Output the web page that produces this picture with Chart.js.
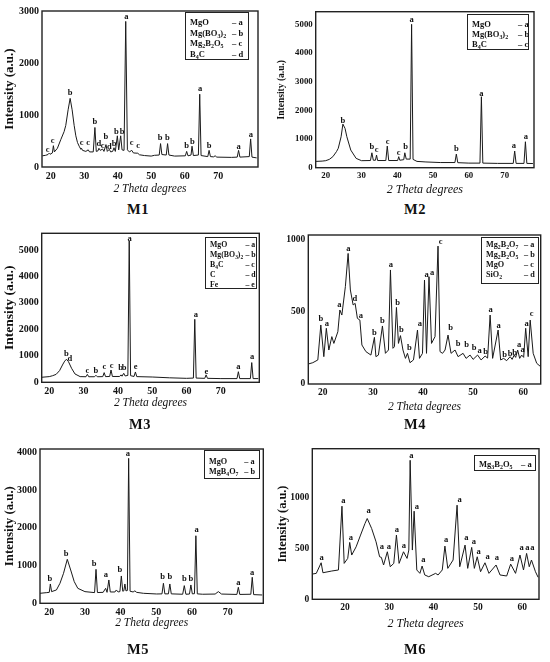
<!DOCTYPE html>
<html>
<head>
<meta charset="utf-8">
<script src="https://cdn.jsdelivr.net/npm/chart.js@4.4.0/dist/chart.umd.min.js"></script>
<style>
  body { margin: 0; background: #fff; }
  #fig { position: relative; width: 550px; height: 662px; font-family: "Liberation Serif", "Times New Roman", serif; color: #111; }
  #fig canvas { position: absolute; }
  .lg { position: absolute; box-sizing: border-box; border: 1.4px solid #222; background: #fff; font-weight: bold; font-size: 8.5px; will-change: transform; }
  .lg .row { position: relative; white-space: nowrap; }
  .lg .code { position: absolute; top: 0; }
  .lg sub { font-size: 70%; vertical-align: -2px; line-height: 0; }
  .ttl { position: absolute; font-weight: bold; font-size: 14.5px; letter-spacing: 0.5px; transform: translate(-50%, -50%); }
</style>
</head>
<body>
<div id="fig"></div>
<script>
// ---- data: [2 theta, intensity] ----
const m1Points = [[17.5,215],[18.5,225],[19.2,240],[19.5,265],[19.8,245],[20.5,270],[20.8,410],[21.1,290],[22,360],[23,525],[24,680],[24.5,800],[25.2,1100],[25.8,1320],[26.4,1100],[27,800],[27.5,600],[28,470],[28.5,400],[29,340],[29.2,360],[29.5,320],[30.5,300],[31.2,330],[31.6,290],[32.7,290],[33.2,760],[33.6,300],[34.1,310],[34.4,360],[34.8,320],[35.5,345],[35.9,300],[36.5,430],[36.9,300],[37.5,340],[37.9,290],[38.5,300],[38.9,370],[39.3,300],[39.9,600],[40.3,330],[40.9,600],[41.3,330],[41.9,320],[42.4,2800],[42.9,330],[43.5,290],[44.2,320],[44.7,270],[46.0,265],[46.5,235],[48,220],[50,210],[51,225],[52.4,230],[52.8,450],[53.2,240],[54.5,230],[54.9,450],[55.3,230],[57,210],[60.2,215],[60.6,300],[61,215],[61.9,230],[62.2,400],[62.6,220],[64.1,230],[64.5,1400],[64.9,220],[66.9,200],[67.3,320],[67.7,200],[68.6,195],[69.1,215],[69.6,190],[74,185],[75.7,190],[76.1,320],[76.5,190],[79.3,200],[79.7,540],[80.1,190],[81.5,175]];
const m1Labels = [[19.1,333,'c'],[20.6,499,'c'],[25.8,1420,'b'],[29.2,460,'c'],[31.2,460,'c'],[33.2,877,'b'],[34.4,448,'d'],[35.5,416,'c'],[36.5,576,'b'],[37.5,390,'d'],[38.9,448,'b'],[39.6,672,'b'],[41.3,672,'b'],[42.6,2892,'a'],[44.2,460,'c'],[46.1,416,'c'],[52.7,569,'b'],[54.8,569,'b'],[60.6,409,'b'],[62.3,486,'b'],[64.6,1497,'a'],[67.3,416,'b'],[76.1,397,'a'],[79.8,614,'a']];
const m1XTicks = [20, 30, 40, 50, 60, 70];
const m1YTicks = [0, 1000, 2000, 3000];
const m1Legend = ['MgO', 'Mg(BO<sub>3</sub>)<sub>2</sub>', 'Mg<sub>2</sub>B<sub>2</sub>O<sub>5</sub>', 'B<sub>4</sub>C'];
const m1Codes = ['a', 'b', 'c', 'd'];

const m2Points = [[17.3,220],[19,230],[20,245],[21,290],[22,385],[23,560],[23.5,675],[24.3,1080],[24.8,1520],[25.4,1370],[25.9,1080],[27,615],[28.5,325],[30,245],[32.5,250],[32.9,520],[33.3,260],[33.9,260],[34.2,440],[34.5,250],[36.8,250],[37.2,755],[37.6,250],[40.1,250],[40.4,385],[40.7,260],[41.8,280],[42.1,520],[42.5,300],[43.6,300],[44.0,5000],[44.4,290],[45.5,220],[48,200],[52,180],[56.1,180],[56.5,475],[56.9,175],[60,160],[63.1,160],[63.5,2475],[63.9,160],[68,150],[72.4,150],[72.8,580],[73.2,150],[75.4,150],[75.8,905],[76.2,150],[77.9,145]];
const m2Labels = [[24.8,1650,'b'],[32.9,730,'b'],[34.2,615,'c'],[37.3,905,'c'],[40.4,525,'c'],[42.3,730,'b'],[44.0,5175,'a'],[56.5,675,'b'],[63.5,2570,'a'],[72.6,770,'a'],[75.9,1080,'a']];
const m2XTicks = [20, 30, 40, 50, 60, 70];
const m2YTicks = [0, 1000, 2000, 3000, 4000, 5000];
const m2Legend = ['MgO', 'Mg(BO<sub>3</sub>)<sub>2</sub>', 'B<sub>4</sub>C'];
const m2Codes = ['a', 'b', 'c'];

const m3Points = [[17.8,190],[20,215],[21,250],[22,300],[23,440],[24,690],[24.5,800],[25,870],[25.6,780],[26.5,530],[27.5,315],[29,215],[30.7,210],[31.1,300],[31.5,210],[33.2,210],[33.6,265],[34,210],[35.6,215],[36,365],[36.4,215],[37.6,220],[38,465],[38.4,220],[40.5,220],[40.9,280],[41.2,230],[41.7,340],[42.1,240],[42.9,260],[43.3,5340],[43.7,250],[44.7,220],[45.1,390],[45.5,215],[50,200],[55,170],[60,150],[62,160],[62.4,2380],[62.8,160],[65.3,150],[65.7,280],[66.1,150],[70,140],[74.7,140],[75.1,400],[75.5,140],[78.6,140],[79,745],[79.4,140],[80.9,140]];
const m3Labels = [[25.0,1070,'b'],[26.0,870,'d'],[31.1,440,'c'],[33.6,440,'b'],[36.1,580,'c'],[38.2,617,'c'],[40.8,554,'b'],[41.8,554,'b'],[43.4,5440,'a'],[45.2,580,'e'],[62.7,2545,'a'],[65.8,415,'e'],[75.1,590,'a'],[79.1,945,'a']];
const m3XTicks = [20, 30, 40, 50, 60, 70];
const m3YTicks = [0, 1000, 2000, 3000, 4000, 5000];
const m3Legend = ['MgO', 'Mg(BO<sub>3</sub>)<sub>2</sub>', 'B<sub>4</sub>C', 'C', 'Fe'];
const m3Codes = ['a', 'b', 'c', 'd', 'e'];

const m4Points = [[17.1,139],[18.0,148],[19.0,167],[19.6,410],[20.2,190],[20.7,387],[21.2,236],[21.8,329],[22.2,282],[23.0,363],[23.4,514],[23.8,479],[24.5,676],[25.05,907],[25.5,653],[26.05,549],[26.45,560],[26.9,456],[27.4,444],[27.8,271],[28.6,225],[29.6,201],[30.3,324],[30.6,190],[31.1,201],[31.9,403],[32.5,213],[33.1,236],[33.5,792],[34.0,248],[34.3,259],[34.7,532],[35.1,282],[35.5,336],[36.0,236],[36.5,178],[36.9,213],[37.4,148],[38.1,167],[38.9,375],[39.3,178],[39.9,213],[40.3,722],[40.7,213],[41.2,745],[41.7,282],[42.4,329],[43.0,958],[43.4,225],[43.9,213],[44.4,236],[45.0,340],[45.6,213],[46.4,236],[47.0,190],[48.0,213],[48.6,178],[49.4,201],[50.0,171],[50.9,201],[51.6,167],[52.4,194],[52.9,180],[53.4,479],[53.9,178],[55.0,375],[55.5,167],[56.1,178],[56.7,162],[57.4,190],[57.8,171],[58.2,201],[58.5,185],[58.9,236],[59.3,178],[59.7,201],[60.1,185],[60.5,387],[61.0,190],[61.4,444],[62.0,213],[62.7,144],[63.5,120]];
const m4Labels = [[19.6,451,'b'],[20.8,417,'a'],[23.3,553,'a'],[25.1,942,'a'],[26.4,595,'d'],[27.6,475,'a'],[30.3,356,'b'],[31.9,438,'b'],[33.6,826,'a'],[34.95,565,'b'],[35.7,375,'b'],[37.3,250,'b'],[39.4,421,'a'],[40.7,762,'a'],[41.8,769,'a'],[43.5,988,'c'],[45.5,387,'b'],[47.0,282,'b'],[48.7,271,'b'],[50.2,252,'b'],[51.3,229,'a'],[52.5,225,'b'],[53.5,514,'a'],[55.1,407,'a'],[56.3,201,'b'],[57.4,213,'b'],[58.3,220,'b'],[59.2,273,'a'],[59.9,241,'a'],[60.7,417,'a'],[61.7,486,'c']];
const m4XTicks = [20, 30, 40, 50, 60];
const m4YTicks = [0, 500, 1000];
const m4Legend = ['Mg<sub>2</sub>B<sub>2</sub>O<sub>7</sub>', 'Mg<sub>2</sub>B<sub>2</sub>O<sub>5</sub>', 'MgO', 'SiO<sub>2</sub>'];
const m4Codes = ['a', 'b', 'c', 'd'];

const m5Points = [[17.4,265],[19.3,283],[20,290],[20.3,512],[20.65,309],[22,353],[23,530],[24,795],[25.05,1165],[26,883],[27,574],[28,397],[30,309],[32.7,283],[33.1,900],[33.5,285],[35.1,290],[35.8,397],[36.2,290],[36.7,618],[37.1,300],[38.4,300],[38.8,353],[39.3,300],[39.8,310],[40.2,724],[40.6,320],[40.9,330],[41.2,512],[41.5,330],[41.9,340],[42.25,3840],[42.65,320],[43.5,300],[44,330],[44.5,290],[46.4,265],[50.1,247],[51.6,250],[52,530],[52.4,250],[53.4,250],[53.8,512],[54.2,250],[57.4,240],[57.85,468],[58.3,240],[59.3,245],[59.7,486],[60.1,250],[60.7,255],[61.1,1790],[61.5,250],[63,240],[66.5,245],[67.4,309],[68.3,245],[72.6,235],[73,424],[73.4,235],[76.5,240],[76.9,689],[77.3,230],[79.7,220]];
const m5Labels = [[20.2,636,'b'],[24.7,1307,'b'],[32.6,1042,'b'],[35.9,759,'a'],[39.8,900,'b'],[42.05,3956,'a'],[51.8,706,'b'],[53.8,706,'b'],[57.85,662,'b'],[59.7,662,'b'],[61.3,1960,'a'],[73.0,547,'a'],[76.9,812,'a']];
const m5XTicks = [20, 30, 40, 50, 60, 70];
const m5YTicks = [0, 1000, 2000, 3000, 4000];
const m5Legend = ['MgO', 'MgB<sub>4</sub>O<sub>7</sub>'];
const m5Codes = ['a', 'b'];

const m6Points = [[12.6,248],[13.5,255],[14.6,359],[15.0,261],[17.0,278],[18.5,288],[19.3,915],[19.8,353],[20.6,402],[21.05,559],[21.5,435],[22.5,516],[23.5,631],[24.5,745],[25.0,794],[26.0,696],[27.0,565],[27.8,418],[28.2,412],[28.7,337],[29.55,467],[30.2,320],[31.0,353],[31.6,631],[32.2,353],[33.2,467],[34.0,402],[34.4,484],[34.7,1366],[35.2,484],[35.6,866],[36.2,288],[36.9,255],[37.4,327],[38.0,239],[38.9,222],[40.45,255],[41.0,239],[41.95,288],[42.55,523],[43.2,304],[44.4,386],[45.3,925],[45.9,320],[47.1,533],[47.7,304],[48.6,510],[49.2,304],[49.85,418],[50.6,271],[51.6,359],[52.5,255],[54.1,337],[55.0,239],[56.5,229],[57.4,346],[58.5,255],[59.5,435],[60.3,288],[61.0,451],[61.6,320],[62.1,386],[63.0,271],[63.6,216]];
const m6Labels = [[14.7,412,'a'],[19.6,967,'a'],[21.3,608,'a'],[25.3,869,'a'],[28.3,516,'a'],[29.9,516,'a'],[31.7,680,'a'],[33.3,523,'a'],[35.0,1415,'a'],[36.2,908,'a'],[37.7,386,'a'],[42.8,588,'a'],[45.9,974,'a'],[47.4,608,'a'],[49.1,565,'a'],[50.15,467,'a'],[52.2,418,'a'],[54.3,405,'a'],[57.7,395,'a'],[59.9,510,'a'],[61.2,510,'a'],[62.3,510,'a']];
const m6XTicks = [20, 30, 40, 50, 60];
const m6YTicks = [0, 500, 1000];
const m6Legend = ['Mg<sub>3</sub>B<sub>2</sub>O<sub>5</sub>'];
const m6Codes = ['a'];

// ---- layout (page pixels) ----
const SERIF = '"Liberation Serif", "Times New Roman", serif';
const panels = [
  { name: 'M1', pts: m1Points, labels: m1Labels, xt: m1XTicks, yt: m1YTicks, legend: m1Legend, codes: m1Codes,
    xMin: 17.4, xMax: 81.9, yMax: 3000, box: [0, 0, 262, 198], area: [42, 11, 258, 167],
    yTitle: { x: 10, size: 13 }, xTitle: { y: 189, size: 11.5 }, tick: 10, title: [138, 209],
    lg: { x: 185, y: 11.5, w: 64, h: 48, pad: 3.8, row: 10.8, code: 46, fs: 8.5 } },
  { name: 'M2', pts: m2Points, labels: m2Labels, xt: m2XTicks, yt: m2YTicks, legend: m2Legend, codes: m2Codes,
    xMin: 17.2, xMax: 78.2, yMax: 5440, box: [275, 0, 263, 198], area: [315.7, 11.7, 534, 167.7],
    yTitle: { x: 282, size: 9.5 }, xTitle: { y: 190, size: 12 }, tick: 8.8, title: [415, 209],
    lg: { x: 466.7, y: 14, w: 62.3, h: 36, pad: 3.5, row: 10.3, code: 50, fs: 8.5 } },
  { name: 'M3', pts: m3Points, labels: m3Labels, xt: m3XTicks, yt: m3YTicks, legend: m3Legend, codes: m3Codes,
    xMin: 17.8, xMax: 81.2, yMax: 5630, box: [0, 220, 263, 198], area: [41.7, 233.3, 259.3, 382.3],
    yTitle: { x: 10, size: 13.5 }, xTitle: { y: 402.7, size: 11.5 }, tick: 10, title: [140, 424],
    lg: { x: 205, y: 236.7, w: 51.7, h: 51.6, pad: 1.6, row: 10, code: 39.5, fs: 7.8 } },
  { name: 'M4', pts: m4Points, labels: m4Labels, xt: m4XTicks, yt: m4YTicks, legend: m4Legend, codes: m4Codes,
    xMin: 17.1, xMax: 63.5, yMax: 1035, box: [275, 220, 270, 198], area: [308.3, 235, 540.7, 384],
    yTitle: null, xTitle: { y: 406.7, size: 11.5 }, tick: 9.5, title: [415, 424],
    lg: { x: 481, y: 237, w: 58, h: 47, pad: 2.3, row: 10, code: 42, fs: 8.2 } },
  { name: 'M5', pts: m5Points, labels: m5Labels, xt: m5XTicks, yt: m5YTicks, legend: m5Legend, codes: m5Codes,
    xMin: 17.4, xMax: 80, yMax: 4088, box: [0, 440, 268, 198], area: [40, 449, 263.3, 603.3],
    yTitle: { x: 10, size: 12.8 }, xTitle: { y: 622.7, size: 11.5 }, tick: 10, title: [138, 649],
    lg: { x: 204, y: 450, w: 56, h: 29.3, pad: 5.7, row: 10, code: 39.3, fs: 8.2 } },
  { name: 'M6', pts: m6Points, labels: m6Labels, xt: m6XTicks, yt: m6YTicks, legend: m6Legend, codes: m6Codes,
    xMin: 12.6, xMax: 63.8, yMax: 1480, box: [275, 440, 268, 198], area: [312.3, 448.3, 539, 599.3],
    yTitle: { x: 283, size: 12.3 }, xTitle: { y: 624, size: 12 }, tick: 9.5, title: [415, 649],
    lg: { x: 474, y: 455, w: 61.7, h: 16, pad: 3, row: 10, code: 46, fs: 8.5 } }
];

// frame round the plot area
const framePlugin = {
  id: 'frame',
  afterDatasetsDraw(chart) {
    const a = chart.chartArea, ctx = chart.ctx;
    ctx.save();
    ctx.strokeStyle = '#222';
    ctx.lineWidth = 1.4;
    ctx.strokeRect(a.left, a.top, a.right - a.left, a.bottom - a.top);
    ctx.restore();
  }
};

// phase letters above the peaks
const peakLetters = {
  id: 'peakLetters',
  afterDraw(chart) {
    const labels = chart.options.plugins.peakLetters.labels;
    const xs = chart.scales.x, ys = chart.scales.y, ctx = chart.ctx;
    ctx.save();
    ctx.fillStyle = '#111';
    ctx.font = 'bold 8.5px ' + SERIF;
    ctx.textAlign = 'center';
    ctx.textBaseline = 'middle';
    labels.forEach(l => ctx.fillText(l[2], xs.getPixelForValue(l[0]), ys.getPixelForValue(l[1])));
    ctx.restore();
  }
};

const fig = document.getElementById('fig');
const plain = v => String(v);

panels.forEach(p => {
  const [bx, by, bw, bh] = p.box;
  const [al, at, ar, ab] = p.area;
  const cv = document.createElement('canvas');
  cv.width = bw; cv.height = bh;
  cv.style.left = bx + 'px'; cv.style.top = by + 'px';
  cv.style.width = bw + 'px'; cv.style.height = bh + 'px';
  fig.appendChild(cv);

  const yw = al - bx, xh = by + bh - ab;
  const xtLH = p.xTitle.size * 1.2;
  const yTitle = p.yTitle
    ? { display: true, text: 'Intensity (a.u.)', color: '#111',
        font: { family: SERIF, weight: 'bold', size: p.yTitle.size },
        padding: { top: p.yTitle.x - bx - p.yTitle.size * 0.6, bottom: 0 } }
    : { display: false };

  new Chart(cv, {
    type: 'line',
    data: { datasets: [{ data: p.pts.map(d => ({ x: d[0], y: d[1] })), borderColor: '#1a1a1a', borderWidth: 1, pointRadius: 0, tension: 0, fill: false }] },
    options: {
      responsive: false, animation: false,
      layout: { padding: { left: 0, top: at - by, right: bx + bw - ar, bottom: 0 } },
      plugins: { legend: { display: false }, tooltip: { enabled: false }, peakLetters: { labels: p.labels } },
      scales: {
        x: {
          type: 'linear', min: p.xMin, max: p.xMax,
          afterBuildTicks: s => { s.ticks = p.xt.map(v => ({ value: v })); },
          afterFit: s => { s.height = xh; },
          grid: { display: false, drawTicks: false },
          border: { display: false },
          ticks: { autoSkip: false, maxRotation: 0, padding: 3, color: '#111', callback: plain, font: { family: SERIF, weight: 'bold', size: p.tick } },
          title: { display: true, text: '2 Theta degrees', color: '#111',
                   font: { family: SERIF, style: 'italic', size: p.xTitle.size },
                   padding: { top: 0, bottom: by + bh - p.xTitle.y - xtLH / 2 } }
        },
        y: {
          min: 0, max: p.yMax,
          afterBuildTicks: s => { s.ticks = p.yt.map(v => ({ value: v })); },
          afterFit: s => { s.width = yw; },
          grid: { display: false, drawTicks: false },
          border: { display: false },
          ticks: { autoSkip: false, padding: 3, color: '#111', callback: plain, font: { family: SERIF, weight: 'bold', size: p.tick } },
          title: yTitle
        }
      }
    },
    plugins: [framePlugin, peakLetters]
  });

  // legend box
  const lg = document.createElement('div');
  lg.className = 'lg';
  Object.assign(lg.style, { left: p.lg.x + 'px', top: p.lg.y + 'px', width: p.lg.w + 'px', height: p.lg.h + 'px', paddingTop: p.lg.pad + 'px', fontSize: p.lg.fs + 'px' });
  p.legend.forEach((txt, i) => {
    const row = document.createElement('div');
    row.className = 'row';
    row.style.height = p.lg.row + 'px';
    row.style.lineHeight = p.lg.row + 'px';
    row.innerHTML = '<span style="margin-left:4px">' + txt + '</span><span class="code" style="left:' + p.lg.code + 'px">\u2013 ' + p.codes[i] + '</span>';
    lg.appendChild(row);
  });
  fig.appendChild(lg);

  const t = document.createElement('div');
  t.className = 'ttl';
  t.style.left = p.title[0] + 'px';
  t.style.top = p.title[1] + 'px';
  t.textContent = p.name;
  fig.appendChild(t);
});
</script>
</body>
</html>
